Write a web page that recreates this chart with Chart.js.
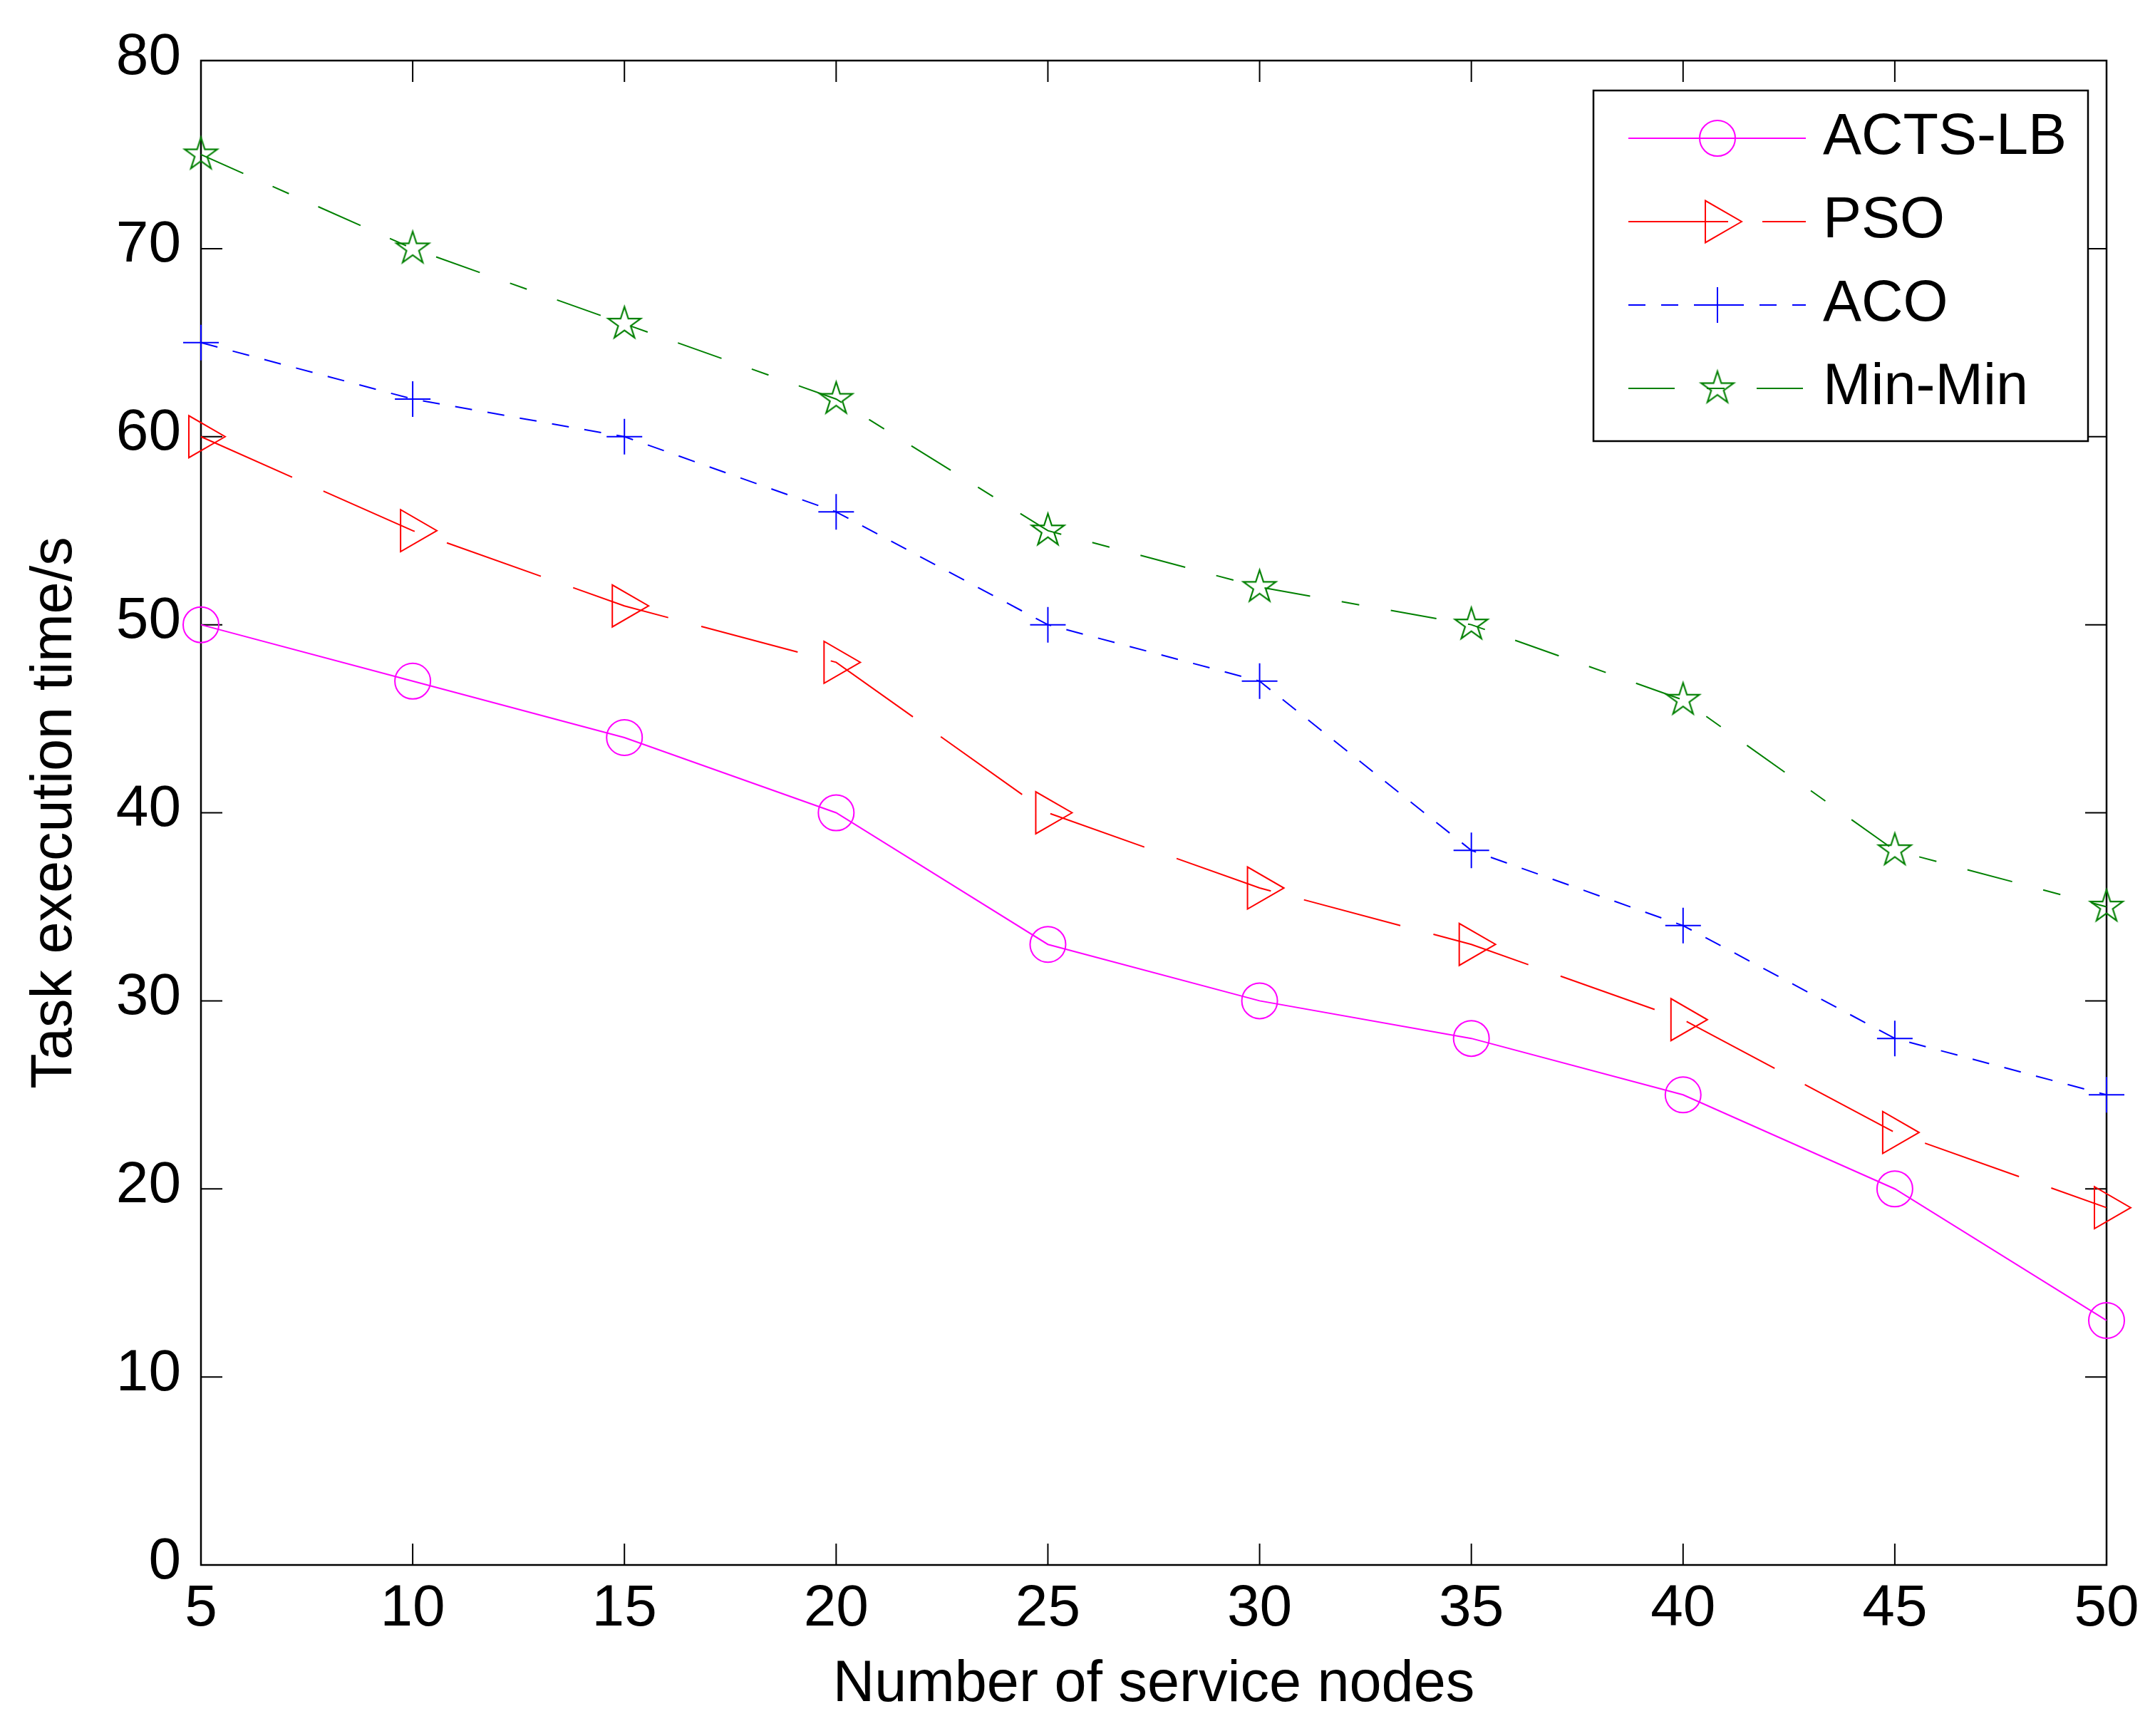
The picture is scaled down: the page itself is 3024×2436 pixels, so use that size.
<!DOCTYPE html>
<html>
<head>
<meta charset="utf-8">
<title>Task execution time vs service nodes</title>
<script src="https://cdn.jsdelivr.net/npm/chart.js@4.4.1/dist/chart.umd.min.js"></script>
<style>
  html, body { margin: 0; padding: 0; background: #fff; }
  #wrap { width: 3024px; height: 2436px; }
</style>
</head>
<body>
<div id="wrap"><canvas id="chart" width="3024" height="2436"></canvas></div>
<script>
// ---- data ----
const NODES   = [5, 10, 15, 20, 25, 30, 35, 40, 45, 50];
const ACTS_LB = [50, 47, 44, 40, 33, 30, 28, 25, 20, 13];
const PSO     = [60, 55, 51, 48, 40, 36, 33, 29, 23, 19];
const ACO     = [65, 62, 60, 56, 50, 47, 38, 34, 28, 25];
const MIN_MIN = [75, 70, 66, 62, 55, 52, 50, 46, 38, 35];

const SERIES_NAMES = ["ACTS-LB", "PSO", "ACO", "Min-Min"];
const X_TITLE = "Number of service nodes";
const Y_TITLE = "Task execution time/s";

const FONT = "'Liberation Sans', Arial, Helvetica, sans-serif";
const TICK_LEN = 30;

// pentagram marker (matlab 'p'), drawn once onto a small canvas
function makeStar(color, R, lw){
  const s = Math.ceil(R * 2 + lw * 2 + 4);
  const c = document.createElement("canvas");
  c.width = s; c.height = s;
  const g = c.getContext("2d");
  const cx = s / 2, cy = s / 2, r = R * 0.382;
  g.beginPath();
  for (let k = 0; k < 10; k++){
    const a = -Math.PI / 2 + k * Math.PI / 5;
    const rad = k % 2 ? r : R;
    const x = cx + Math.cos(a) * rad, y = cy + Math.sin(a) * rad;
    k ? g.lineTo(x, y) : g.moveTo(x, y);
  }
  g.closePath();
  g.strokeStyle = color; g.lineWidth = lw; g.lineJoin = "miter";
  g.stroke();
  return c;
}

const pts = (ys) => NODES.map((x, i) => ({ x, y: ys[i] }));

const datasets = [
  { label: SERIES_NAMES[0], data: pts(ACTS_LB), borderColor: "#ff00ff", borderDash: [],
    pointStyle: "circle", pointRadius: 25, rotation: 0 },
  { label: SERIES_NAMES[1], data: pts(PSO), borderColor: "#ff0000", borderDash: [140, 48],
    pointStyle: "triangle", pointRadius: 34, rotation: 90 },
  { label: SERIES_NAMES[2], data: pts(ACO), borderColor: "#0000ff", borderDash: [24, 22],
    pointStyle: "cross", pointRadius: 25, rotation: 0 },
  { label: SERIES_NAMES[3], data: pts(MIN_MIN), borderColor: "#008000", borderDash: [65, 45, 25, 45],
    pointStyle: makeStar("#008000", 24, 2.2), pointRadius: 24, rotation: 0 }
].map(d => Object.assign(d, {
  borderWidth: 2,
  backgroundColor: "rgba(0,0,0,0)",
  pointBorderColor: d.borderColor,
  pointBackgroundColor: "rgba(0,0,0,0)",
  pointBorderWidth: 2,
  pointRotation: d.rotation,
  tension: 0,
  fill: false,
  clip: false
}));

// frame + inward ticks on all four sides (matlab box)
const framePlugin = {
  id: "frame",
  beforeDatasetsDraw(chart){
    const { ctx, chartArea: a, scales: { x, y } } = chart;
    ctx.save();
    ctx.strokeStyle = "#000";
    ctx.lineWidth = 2;
    ctx.beginPath();
    x.ticks.forEach(t => {
      const px = x.getPixelForValue(t.value);
      ctx.moveTo(px, a.bottom); ctx.lineTo(px, a.bottom - TICK_LEN);
      ctx.moveTo(px, a.top);    ctx.lineTo(px, a.top + TICK_LEN);
    });
    y.ticks.forEach(t => {
      const py = y.getPixelForValue(t.value);
      ctx.moveTo(a.left, py);  ctx.lineTo(a.left + TICK_LEN, py);
      ctx.moveTo(a.right, py); ctx.lineTo(a.right - TICK_LEN, py);
    });
    ctx.stroke();
    ctx.lineWidth = 2.5;
    ctx.strokeRect(a.left, a.top, a.right - a.left, a.bottom - a.top);
    ctx.restore();
  }
};

// legend box in the upper right, line sample + marker + name
const legendPlugin = {
  id: "boxLegend",
  afterDraw(chart){
    const ctx = chart.ctx;
    const box = { left: 2236, top: 127, right: 2930, bottom: 619 };
    const rowY = [194, 311, 428, 545];
    const lineL = 2285, lineR = 2534, markX = 2410, textX = 2558;
    ctx.save();
    ctx.fillStyle = "#fff";
    ctx.fillRect(box.left, box.top, box.right - box.left, box.bottom - box.top);
    ctx.strokeStyle = "#000";
    ctx.lineWidth = 2.5;
    ctx.strokeRect(box.left, box.top, box.right - box.left, box.bottom - box.top);

    chart.data.datasets.forEach((ds, i) => {
      const yy = rowY[i];
      ctx.save();
      ctx.strokeStyle = ds.borderColor;
      ctx.lineWidth = ds.borderWidth;
      ctx.setLineDash(ds.borderDash || []);
      ctx.beginPath();
      ctx.moveTo(lineL, yy); ctx.lineTo(lineR, yy);
      ctx.stroke();
      ctx.setLineDash([]);
      ctx.fillStyle = "rgba(0,0,0,0)";
      Chart.helpers.drawPoint(ctx, {
        pointStyle: ds.pointStyle, rotation: ds.pointRotation,
        radius: ds.pointRadius, borderWidth: ds.pointBorderWidth
      }, markX, yy);
      ctx.restore();

      ctx.fillStyle = "#000";
      ctx.font = `81px ${FONT}`;
      ctx.textAlign = "left";
      ctx.textBaseline = "middle";
      ctx.fillText(ds.label, textX, yy);
    });
    ctx.restore();
  }
};

new Chart(document.getElementById("chart"), {
  type: "line",
  data: { datasets },
  options: {
    responsive: false,
    devicePixelRatio: 1,
    animation: false,
    events: [],
    layout: { padding: { top: 85, right: 68, left: 0, bottom: 0 } },
    plugins: { legend: { display: false }, tooltip: { enabled: false } },
    scales: {
      x: {
        type: "linear", min: 5, max: 50,
        grid: { display: false, drawTicks: false },
        border: { display: false },
        ticks: { stepSize: 5, color: "#000", padding: 13, maxRotation: 0,
                 font: { family: FONT, size: 82 } },
        title: { display: true, text: X_TITLE, color: "#000",
                 padding: { top: 0, bottom: 23 }, font: { family: FONT, size: 81 } },
        afterFit(s){ s.height = 240; }
      },
      y: {
        min: 0, max: 80,
        grid: { display: false, drawTicks: false },
        border: { display: false },
        ticks: { stepSize: 10, color: "#000", padding: 28, labelOffset: -4,
                 font: { family: FONT, size: 82 } },
        title: { display: true, text: Y_TITLE, color: "#000",
                 padding: { top: 29, bottom: 0 }, font: { family: FONT, size: 81 } },
        afterFit(s){ s.width = 282; }
      }
    }
  },
  plugins: [framePlugin, legendPlugin]
});
</script>
</body>
</html>
